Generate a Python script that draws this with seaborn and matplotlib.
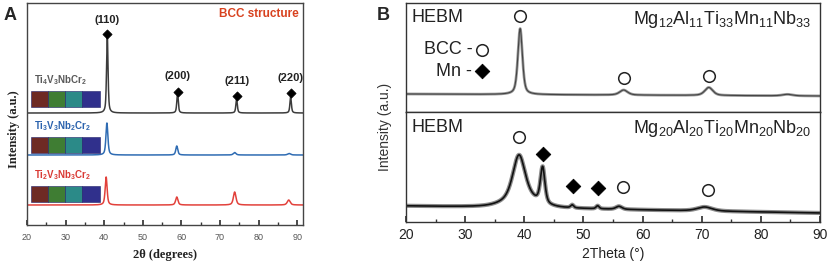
import numpy as np
import pandas as pd
import matplotlib
matplotlib.use('Agg')
import matplotlib.pyplot as plt
import seaborn as sns
from matplotlib.patches import Rectangle
from matplotlib.ticker import MultipleLocator

sns.set_theme(style='white')
plt.rcParams['font.family'] = ['Liberation Sans', 'DejaVu Sans']
plt.rcParams['mathtext.default'] = 'regular'

# ---------------- Panel A data (Ti-V-Nb-Cr, BCC reflections) ----------------
a_names = ['Ti4V3NbCr2', 'Ti3V3Nb2Cr2', 'Ti2V3Nb3Cr2']
a_labels = [r'Ti$_4$V$_3$NbCr$_2$', r'Ti$_3$V$_3$Nb$_2$Cr$_2$', r'Ti$_2$V$_3$Nb$_3$Cr$_2$']
a_colors = ['#3c3c3c', '#2f6cb3', '#e2413b']
a_label_colors = ['#5a5a5a', '#2a62ad', '#d93a34']
a_base = [112, 70, 20]
a_pos = [[40.8, 59.0, 74.3, 88.3],
         [40.7, 58.8, 73.8, 87.9],
         [40.5, 58.8, 73.8, 87.8]]
a_height = [[78, 20, 14, 16],
            [32, 9, 2.5, 1.5],
            [28, 8, 13, 5]]
a_width = [[0.45, 0.45, 0.45, 0.45],
           [0.6, 0.6, 0.8, 0.9],
           [0.6, 0.7, 0.8, 0.9]]
hkl = ['(110)', '(200)', '(211)', '(220)']
hkl_mark_y = [191, 133, 129, 132]
hkl_text_y = [200, 144, 139, 142]
map_colors = ['#6e2a24', '#3f7d33', '#2b8a88', '#30308c']
map_y = [118, 72, 23]

# ---------------- Panel B data (Mg-Al-Ti-Mn-Nb, HEBM) ----------------
b1_base = [18, 16]
b1_pos = [39.3, 56.8, 71.2, 84.5]
b1_height = [66, 5, 8, 1.5]
b1_width = [0.9, 1.6, 1.6, 2.0]
b1_bcc_x = [39.3, 56.8, 71.3]
b1_bcc_y = [96, 34, 36]

b2_base = [16, 9]
b2_pos = [39.1, 39.5, 43.1, 48.1, 52.4, 56.0, 70.5]
b2_height = [42, 11, 36, 3, 3, 3, 4]
b2_width = [2.4, 6.0, 0.9, 0.6, 0.6, 1.2, 3.0]
b2_bcc_x = [39.1, 56.7, 71.0]
b2_bcc_y = [85, 35, 32]
b2_mn_x = [43.1, 48.2, 52.5]
b2_mn_y = [68, 36, 34]


def pattern(x, base, pos, height, width, eta=0.5):
    # pseudo-Voigt peaks on a sloping background
    y = base[0] + (base[1] - base[0]) * (x - x[0]) / (x[-1] - x[0])
    for c, h, w in zip(pos, height, width):
        u = ((x - c) / (w / 2)) ** 2
        y = y + h * (eta / (1 + u) + (1 - eta) * np.exp(-np.log(2) * u))
    return y


W, H = 830, 264
fig = plt.figure(figsize=(W / 100, H / 100), dpi=100)


def px_axes(l, t, r, b):
    return fig.add_axes([l / W, 1 - b / H, (r - l) / W, (b - t) / H])


# ---------------- Panel A ----------------
axA = px_axes(27, 3, 303, 225)
xa = np.linspace(20, 91.5, 3000)
frames = []
for i, n in enumerate(a_names):
    y = a_base[i] + pattern(xa, [0, 0], a_pos[i], a_height[i], a_width[i], eta=0.6)
    frames.append(pd.DataFrame({'x': xa, 'y': y, 'sample': n}))
dfA = pd.concat(frames)
sns.lineplot(data=dfA, x='x', y='y', hue='sample', palette=dict(zip(a_names, a_colors)),
             estimator=None, sort=False, legend=False, linewidth=1.1, ax=axA)

sns.scatterplot(x=a_pos[0], y=hkl_mark_y, marker='D', s=22, color='black',
                edgecolor='black', linewidth=0.5, ax=axA, zorder=5)
for xp, yt, t in zip(a_pos[0], hkl_text_y, hkl):
    axA.text(xp, yt, t, ha='center', va='bottom', fontsize=8, fontweight='bold', color='#222222')

for i in range(3):
    axA.text(21.8, map_y[i] + 20, a_labels[i], ha='left', va='bottom', fontsize=7,
             fontweight='bold', color=a_label_colors[i])
    for k, c in enumerate(map_colors):
        axA.add_patch(Rectangle((21.0 + k * 4.45, map_y[i]), 4.45, 16, facecolor=c,
                                edgecolor='#20206a', linewidth=0.4, zorder=3))

axA.text(0.985, 0.95, 'BCC structure', transform=axA.transAxes, ha='right', va='center',
         fontsize=8.5, fontweight='bold', color='#d8421f')

axA.set_xlim(20, 91.5)
axA.set_ylim(0, 222)
axA.set_yticks([])
axA.xaxis.set_major_locator(MultipleLocator(10))
axA.xaxis.set_minor_locator(MultipleLocator(5))
axA.tick_params(axis='x', which='both', direction='in', bottom=True, labelsize=6.5,
                labelcolor='#555555', colors='#333333', pad=6)
axA.tick_params(axis='x', which='major', length=3.5)
axA.tick_params(axis='x', which='minor', length=2)
for s in axA.spines.values():
    s.set_color('#444444')
    s.set_linewidth(1.0)
axA.set_xlabel('2θ (degrees)', fontsize=9, fontweight='bold', family='Liberation Serif',
               color='#222222', labelpad=5)
axA.set_ylabel('Intensity (a.u.)', fontsize=9, fontweight='bold', family='Liberation Serif',
               color='#222222')
axA.yaxis.set_label_coords(-0.025, 0.43)
fig.text(4 / W, 1 - 15 / H, 'A', fontsize=13, fontweight='bold', va='center', ha='left')

# ---------------- Panel B ----------------
axB1 = px_axes(406, 3, 820, 112)
axB2 = px_axes(406, 112, 820, 222)
xb = np.linspace(20, 90, 2500)

dfB1 = pd.DataFrame({'x': xb, 'y': pattern(xb, b1_base, b1_pos, b1_height, b1_width)})
dfB2 = pd.DataFrame({'x': xb, 'y': pattern(xb, b2_base, b2_pos, b2_height, b2_width)})
sns.lineplot(data=dfB1, x='x', y='y', color='#9a9a9a', linewidth=2.0, ax=axB1)
sns.lineplot(data=dfB1, x='x', y='y', color='#444444', linewidth=0.8, ax=axB1)
sns.lineplot(data=dfB2, x='x', y='y', color='#8c8c8c', linewidth=3.0, ax=axB2)
sns.lineplot(data=dfB2, x='x', y='y', color='#111111', linewidth=1.2, ax=axB2)

circ = dict(marker='o', s=70, facecolor='white', edgecolor='#222222', linewidth=1.1, zorder=5)
diam = dict(marker='D', s=55, color='black', edgecolor='black', zorder=5)
sns.scatterplot(x=b1_bcc_x, y=b1_bcc_y, ax=axB1, **circ)
sns.scatterplot(x=b2_bcc_x, y=b2_bcc_y, ax=axB2, **circ)
sns.scatterplot(x=b2_mn_x, y=b2_mn_y, ax=axB2, **diam)

# legend symbols in upper sub-panel
sns.scatterplot(x=[32.9], y=[62], ax=axB1, **circ)
sns.scatterplot(x=[32.9], y=[41], ax=axB1, **diam)
axB1.text(31.2, 62, 'BCC -', ha='right', va='center', fontsize=13, color='#222222')
axB1.text(31.2, 41, 'Mn -', ha='right', va='center', fontsize=13, color='#222222')

axB1.text(21.0, 94, 'HEBM', ha='left', va='center', fontsize=13, color='#222222')
axB2.text(21.0, 95, 'HEBM', ha='left', va='center', fontsize=13, color='#222222')
axB1.text(88.6, 92, r'Mg$_{12}$Al$_{11}$Ti$_{33}$Mn$_{11}$Nb$_{33}$', ha='right', va='center',
          fontsize=13, color='#222222')
axB2.text(88.6, 94, r'Mg$_{20}$Al$_{20}$Ti$_{20}$Mn$_{20}$Nb$_{20}$', ha='right', va='center',
          fontsize=13, color='#222222')

for ax, top in [(axB1, 109), (axB2, 110)]:
    ax.set_xlim(20, 90)
    ax.set_ylim(0, top)
    ax.set_yticks([])
    ax.set_xlabel('')
    ax.set_ylabel('')
    for s in ax.spines.values():
        s.set_color('#333333')
        s.set_linewidth(1.0)
axB1.set_xticks([])
axB2.xaxis.set_major_locator(MultipleLocator(10))
axB2.xaxis.set_minor_locator(MultipleLocator(5))
axB2.tick_params(axis='x', which='both', direction='in', bottom=True, labelsize=10,
                 labelcolor='#222222', colors='#333333', pad=4)
axB2.tick_params(axis='x', which='major', length=4)
axB2.tick_params(axis='x', which='minor', length=2.5)
axB2.set_xlabel('2Theta (°)', fontsize=10, color='#222222', labelpad=4)
fig.text(385 / W, 1 - 127 / H, 'Intensity (a.u.)', rotation=90, fontsize=10, color='#333333',
         ha='center', va='center')
fig.text(377 / W, 1 - 16 / H, 'B', fontsize=13, fontweight='bold', va='center', ha='left')

fig.savefig('out.png', dpi=100, facecolor='white')
